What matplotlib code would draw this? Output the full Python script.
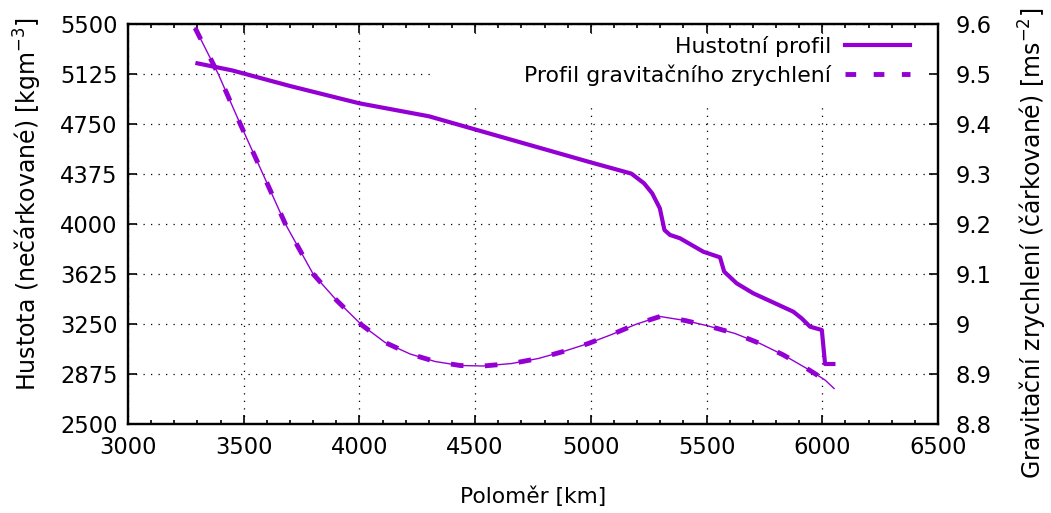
import matplotlib.pyplot as plt
from matplotlib.patches import Rectangle
from matplotlib.lines import Line2D
from matplotlib.ticker import MultipleLocator, FormatStrFormatter

# --- data: radius [km] vs. density [kg/m^3] and gravity [m/s^2] ---
radius_rho = [3300, 3450, 3700, 4000, 4300, 4650, 5000, 5175, 5230, 5265,
              5298, 5318, 5342, 5385, 5486, 5558, 5576, 5630, 5702, 5800,
              5875, 5911, 5947, 5998, 6012, 6048]
rho = [5205, 5152, 5035, 4905, 4808, 4635, 4462, 4378, 4305, 4230,
       4118, 3955, 3918, 3893, 3792, 3750, 3643, 3555, 3480, 3402,
       3342, 3292, 3230, 3205, 2950, 2950]

radius_g = [3290, 3390, 3485, 3583, 3680, 3800, 3900, 4010, 4111, 4219,
            4327, 4435, 4535, 4658, 4773, 4881, 4989, 5090, 5198, 5299,
            5407, 5508, 5623, 5731, 5832, 5933, 6012, 6051]
grav = [9.592, 9.5, 9.4, 9.3, 9.2, 9.1, 9.048, 8.998, 8.963, 8.94,
        8.925, 8.917, 8.916, 8.921, 8.931, 8.945, 8.961, 8.979, 9.0, 9.015,
        9.007, 8.996, 8.981, 8.961, 8.938, 8.911, 8.888, 8.871]

rho_ticks = [2500, 2875, 3250, 3625, 4000, 4375, 4750, 5125, 5500]

barva = '#9400D3'
fs_tick = 16.3
fs_leg = 15.8
plt.rcParams['font.family'] = 'DejaVu Sans'

fig = plt.figure(figsize=(10.51, 5.13), dpi=100)
ax = fig.add_axes([128 / 1051, 89 / 513, 810 / 1051, 400 / 513])
ax2 = ax.twinx()

ax.set_xlim(3000, 6500)
ax.set_ylim(2500, 5500)
ax2.set_ylim(8.8, 9.6)

ax.xaxis.set_major_locator(MultipleLocator(500))
ax.xaxis.set_minor_locator(MultipleLocator(100))
ax.set_yticks(rho_ticks)
ax2.yaxis.set_major_locator(MultipleLocator(0.1))
ax2.yaxis.set_major_formatter(FormatStrFormatter('%g'))

for a in (ax, ax2):
    a.tick_params(which='major', direction='in', length=6.5, width=1.2,
                  labelsize=fs_tick)
    a.tick_params(which='minor', direction='in', length=3.2, width=1.2)
    for s in a.spines.values():
        s.set_linewidth(1.6)
ax.tick_params(axis='x', which='both', top=True, pad=8.5)
ax.tick_params(axis='y', right=False, pad=7.5)
ax2.tick_params(axis='y', pad=12.5)

# mrizka
ax.set_axisbelow(True)
ax.grid(True, which='major', color='black', linewidth=0.9,
        linestyle=(0, (1, 5)))

# bile pozadi pod legendou
ax.add_patch(Rectangle((0.379, 0.805), 0.621, 0.17, transform=ax.transAxes,
                       facecolor='white', edgecolor='none', zorder=1))

# hustota
ax.plot(radius_rho, rho, color=barva, linewidth=3, zorder=3,
        solid_joinstyle='round')

# gravitacni zrychleni: tenka cara + silne carky
ax2.plot(radius_g, grav, color=barva, linewidth=1, zorder=3)
ax2.plot(radius_g, grav, color=barva, linewidth=3.5, dashes=(2.6, 4.4),
         zorder=3)

ax.set_xlabel('Poloměr [km]', fontsize=15.7)
ax.xaxis.set_label_coords(0.5, -0.1825)
ax.xaxis.label.set_verticalalignment('center')
ax.set_ylabel('Hustota (nečárkované) [kgm$^{-3}$]', fontsize=17)
ax.yaxis.set_label_coords(-0.1235, 0.55)
ax.yaxis.label.set_verticalalignment('center')
ax2.set_ylabel('Gravitační zrychlení (čárkované) [ms$^{-2}$]', fontsize=17,
               rotation=90)
ax2.yaxis.set_label_coords(1.117, 0.4525)
ax2.yaxis.label.set_verticalalignment('center')

handles = [Line2D([], [], color=barva, linewidth=3),
           Line2D([], [], color=barva, linewidth=3.5, dashes=(2.2, 3.6))]
ax2.legend(handles, ['Hustotní profil', 'Profil gravitačního zrychlení'],
           loc='upper right', bbox_to_anchor=(0.966, 0.97), frameon=False,
           markerfirst=False, fontsize=fs_leg, handlelength=3.0,
           handletextpad=0.6, labelspacing=0.35, borderpad=0,
           borderaxespad=0)

fig.savefig('out.png', dpi=100)
